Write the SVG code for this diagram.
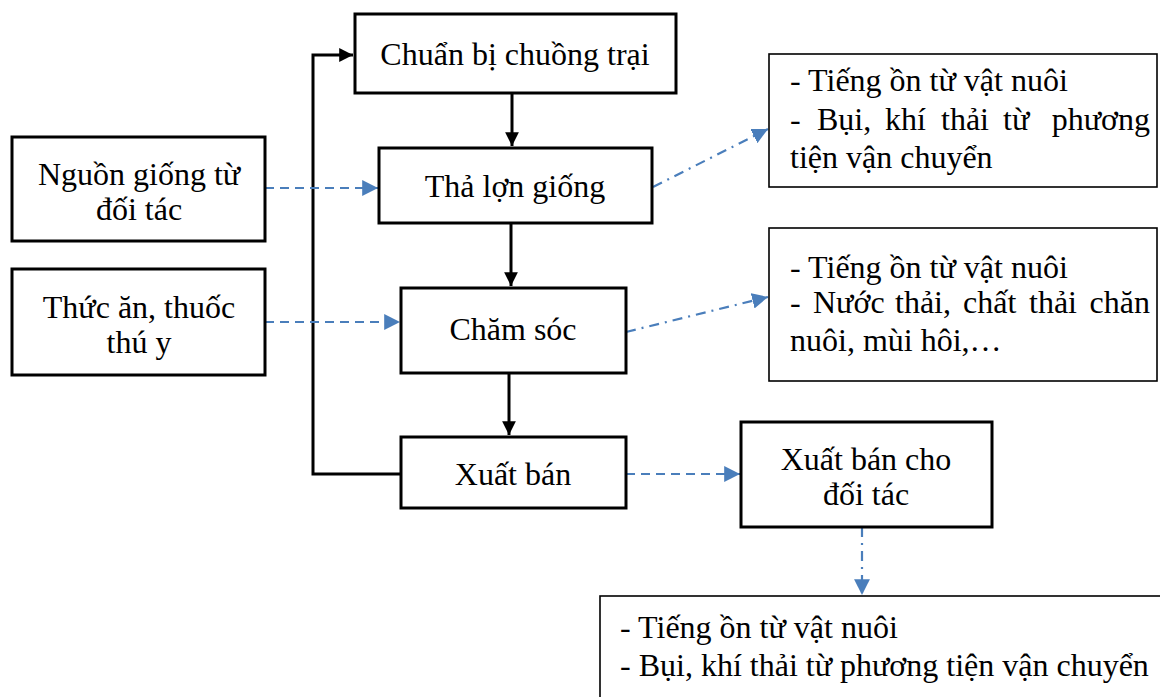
<svg xmlns="http://www.w3.org/2000/svg" width="1160" height="697" viewBox="0 0 1160 697">
<defs>
<style>
text{font-family:"Liberation Serif","Times New Roman",serif;font-size:32px;fill:#000}
.box{fill:#fff;stroke:#000;stroke-width:3}
.thin{fill:#fff;stroke:#000;stroke-width:1.6}
.c{text-anchor:middle}
.e{text-anchor:end}
.bl{fill:none;stroke:#000;stroke-width:3}
.dash{fill:none;stroke:#4a7ebb;stroke-width:2.2;stroke-dasharray:9 6}
.dd{fill:none;stroke:#4a7ebb;stroke-width:2.2;stroke-dasharray:10 6 2 6}
</style>
<marker id="ab" viewBox="0 0 10 10" refX="10" refY="5" markerWidth="4.6" markerHeight="4.6" markerUnits="strokeWidth" orient="auto"><path d="M0,0 L10,5 L0,10 z" fill="#000"/></marker>
<marker id="au" viewBox="0 0 10 10" refX="10" refY="5" markerWidth="7.2" markerHeight="7.2" markerUnits="strokeWidth" orient="auto"><path d="M0,0 L10,5 L0,10 z" fill="#4a7ebb"/></marker>
</defs>
<g id="connectors">
<path class="bl" d="M512,93 V146" marker-end="url(#ab)"/>
<path class="bl" d="M511,223 V286" marker-end="url(#ab)"/>
<path class="bl" d="M509,373 V435" marker-end="url(#ab)"/>
<path class="bl" d="M401,474 H313 V55 H353" marker-end="url(#ab)"/>
<path class="dash" d="M265,188 H378" marker-end="url(#au)"/>
<path class="dash" d="M265,322 H400" marker-end="url(#au)"/>
<path class="dash" d="M626,474 H740" marker-end="url(#au)"/>
<path class="dd" d="M653,187 L768,129" marker-end="url(#au)"/>
<path class="dd" d="M626,332 L768,297" marker-end="url(#au)"/>
<path class="dd" d="M862,527 V595" marker-end="url(#au)"/>
</g>
<g id="n-chuanbi"><rect class="box" x="355" y="14" width="321" height="79"/><text class="c" x="515" y="65">Chuẩn bị chuồng trại</text></g>
<g id="n-thalon"><rect class="box" x="379" y="148" width="273" height="75"/><text class="c" x="515" y="197">Thả lợn giống</text></g>
<g id="n-chamsoc"><rect class="box" x="401" y="288" width="225" height="85"/><text class="c" x="513" y="340">Chăm sóc</text></g>
<g id="n-xuatban"><rect class="box" x="401" y="437" width="225" height="71"/><text class="c" x="513" y="485">Xuất bán</text></g>
<g id="n-nguongiong"><rect class="box" x="12" y="137" width="253" height="104"/><text class="c" x="139" y="185">Nguồn giống từ</text><text class="c" x="139" y="220">đối tác</text></g>
<g id="n-thucan"><rect class="box" x="12" y="269" width="253" height="106"/><text class="c" x="139" y="318">Thức ăn, thuốc</text><text class="c" x="139" y="353">thú y</text></g>
<g id="n-xuatbandoitac"><rect class="box" x="741" y="422" width="251" height="105"/><text class="c" x="866" y="470">Xuất bán cho</text><text class="c" x="866" y="505">đối tác</text></g>
<g id="n-tacdong1"><rect class="thin" x="769" y="54" width="388" height="133"/>
<text x="790" y="91">- Tiếng ồn từ vật nuôi</text>
<text y="130"><tspan x="790">-</tspan><tspan x="817">Bụi,</tspan><tspan x="885">khí</tspan><tspan x="941">thải</tspan><tspan x="1003">từ</tspan><tspan class="e" x="1150" text-anchor="end">phương</tspan></text>
<text x="790" y="168">tiện vận chuyển</text></g>
<g id="n-tacdong2"><rect class="thin" x="769" y="228" width="388" height="153"/>
<text x="790" y="278">- Tiếng ồn từ vật nuôi</text>
<text y="313"><tspan x="790">-</tspan><tspan x="813">Nước</tspan><tspan x="895">thải,</tspan><tspan x="963">chất</tspan><tspan x="1029">thải</tspan><tspan x="1150" text-anchor="end">chăn</tspan></text>
<text x="790" y="351">nuôi, mùi hôi,…</text></g>
<g id="n-tacdong3"><rect class="thin" x="600" y="596" width="600" height="140"/>
<text x="620" y="638">- Tiếng ồn từ vật nuôi</text>
<text x="620" y="676">- Bụi, khí thải từ phương tiện vận chuyển</text></g>
</svg>
